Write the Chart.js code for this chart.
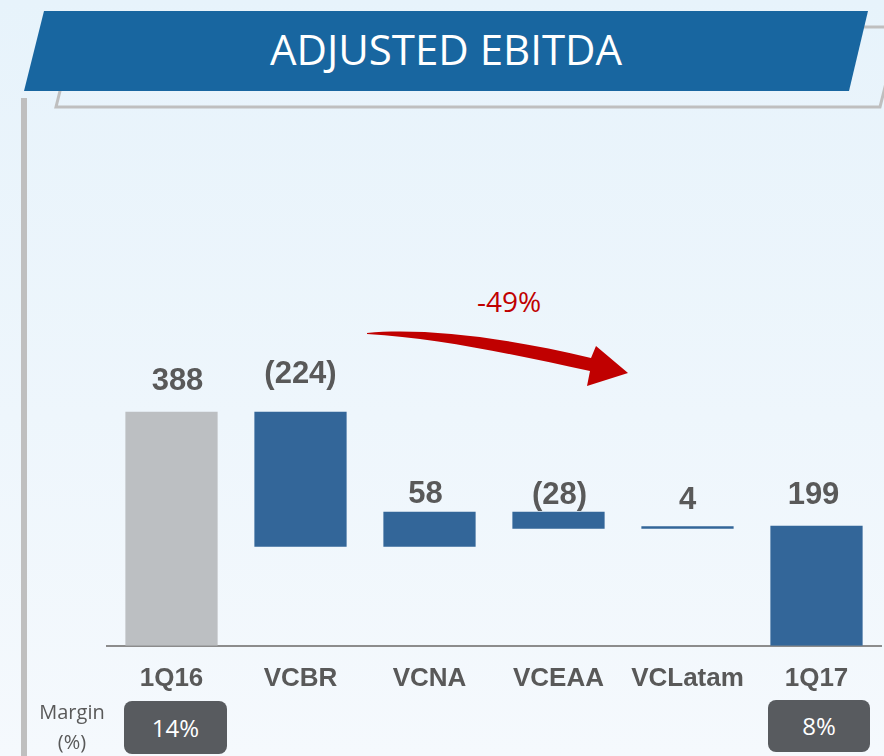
<!DOCTYPE html>
<html>
<head>
<meta charset="utf-8">
<script src="https://cdn.jsdelivr.net/npm/chart.js@4.4.0/dist/chart.umd.min.js"></script>
<style>
  html, body { margin: 0; padding: 0; }
  body {
    width: 884px; height: 756px; overflow: hidden; position: relative;
    background: linear-gradient(180deg, #e7f3fb 0%, #eef6fc 55%, #f5f9fd 100%);
    font-family: "Open Sans", sans-serif;
  }
  #fondo { position: absolute; left: 0; top: 0; }
  #titulo {
    position: absolute; left: 24px; top: 28px; width: 844px;
    text-align: center; color: #fff; font-size: 42px; line-height: 42px;
  }
  #variacion {
    position: absolute; left: 459px; top: 287px; width: 100px;
    text-align: center; color: #c00000; font-size: 28px; line-height: 28px;
  }
  #margen-txt {
    position: absolute; left: 22px; top: 697px; width: 100px;
    text-align: center; color: #595959; font-size: 20px; line-height: 30px;
  }
  .caja {
    position: absolute; height: 53px; width: 103px; border-radius: 8px;
    background: #585b5f; color: #fff; font-size: 24px; line-height: 53px; text-align: center;
  }
  #grafico { position: absolute; left: 0; top: 0; width: 884px; height: 756px; }
</style>
</head>
<body>
<svg id="fondo" width="884" height="756">
  <rect x="21" y="98" width="6" height="660" fill="#bfbfbf"/>
  <path d="M 76 27 L 900 27 L 880 107 L 56 107 Z" fill="none" stroke="#bfbfbf" stroke-width="3"/>
  <path d="M 44 11 L 868 11 L 849 91 L 24 91 Z" fill="#1866a0"/>
  <path d="M 367 333 C 420 328, 500 336, 591 358 L 596 346 L 628 373 L 587 386 L 590 371 C 520 356, 440 338, 367 334 Z" fill="#c00000"/>
</svg>
<div id="titulo">ADJUSTED EBITDA</div>
<div id="variacion">-49%</div>
<div id="grafico"><canvas id="ebitdaChart"></canvas></div>
<div id="margen-txt">Margin<br>(%)</div>
<div class="caja" style="left:124px; top:701px;">14%</div>
<div class="caja" style="left:768px; top:700px; width:102px; height:52px; line-height:52px;">8%</div>

<script>
const categorias = ['1Q16', 'VCBR', 'VCNA', 'VCEAA', 'VCLatam', '1Q17'];
const valores = [388, -224, 58, -28, 4, 199];
const esTotal = [true, false, false, false, false, true];

// separación de la etiqueta sobre la barra (px) y pequeño corrimiento horizontal
const separacion = [22, 29, 9, 8, 17, 22];
const desplazX = [6, 0, -4, 1, 0, -3];

// tramos de la cascada
let acumulado = 0;
const tramos = valores.map((v, i) => {
    if (esTotal[i]) {
        acumulado = v;
        return [0, v];
    }
    const inicio = acumulado;
    acumulado += v;
    return [inicio, acumulado];
});

const etiquetas = valores.map(v => v < 0 ? '(' + (-v) + ')' : String(v));
const colores = categorias.map((c, i) => i === 0 ? '#bcbfc2' : '#336699');

const etiquetasPlugin = {
    id: 'etiquetas',
    afterDatasetsDraw(chart) {
        const ctx = chart.ctx;
        const meta = chart.getDatasetMeta(0);
        ctx.save();
        ctx.font = 'bold 31px "Liberation Sans", Arial, sans-serif';
        ctx.fillStyle = '#595959';
        ctx.textAlign = 'center';
        ctx.textBaseline = 'alphabetic';
        meta.data.forEach((bar, i) => {
            const arriba = Math.min(bar.y, bar.base);
            ctx.fillText(etiquetas[i], bar.x + desplazX[i], arriba - separacion[i]);
        });
        ctx.restore();
    }
};

const ctx = document.getElementById('ebitdaChart').getContext('2d');
new Chart(ctx, {
    type: 'bar',
    data: {
        labels: categorias,
        datasets: [{
            data: tramos,
            backgroundColor: colores,
            borderWidth: 0,
            barPercentage: 0.715,
            categoryPercentage: 1
        }]
    },
    options: {
        responsive: true,
        maintainAspectRatio: false,
        animation: false,
        layout: { padding: { top: 163, left: 107, right: 3, bottom: 45 } },
        plugins: {
            legend: { display: false },
            tooltip: { enabled: false }
        },
        scales: {
            x: {
                grid: { display: false, drawTicks: false },
                border: { display: true, color: '#8c8c8c', width: 2 },
                ticks: {
                    color: '#595959',
                    padding: 17,
                    font: { family: '"Liberation Sans", Arial, sans-serif', size: 26, weight: 'bold' }
                }
            },
            y: {
                display: false,
                min: 0,
                max: 800
            }
        }
    },
    plugins: [etiquetasPlugin]
});
</script>
</body>
</html>
